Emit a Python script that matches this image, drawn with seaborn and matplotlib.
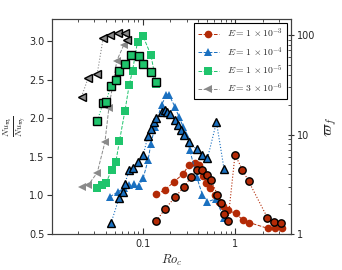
import matplotlib
matplotlib.use("Agg")
import matplotlib.pyplot as plt
import seaborn as sns
from matplotlib.ticker import FixedLocator, NullFormatter, LogLocator

# Nu ratio (left axis), filled markers, dashed
ro_nu_e3 = [0.1416, 0.174, 0.218, 0.274, 0.318, 0.367, 0.408, 0.451, 0.483, 0.533,
            0.604, 0.667, 0.736, 0.834, 1.02, 1.21, 1.42, 2.25, 2.72, 3.19]
nu_e3 = [1.016, 1.071, 1.175, 1.279, 1.396, 1.426, 1.396, 1.253, 1.158, 1.094,
         1.006, 0.916, 0.864, 0.805, 0.769, 0.682, 0.649, 0.574, 0.584, 0.584]

ro_nu_e4 = [0.0444, 0.0541, 0.0628, 0.0711, 0.0806, 0.0912, 0.1015, 0.1149, 0.1229, 0.1358,
            0.1604, 0.1816, 0.1937, 0.2233, 0.2485, 0.2742, 0.2938, 0.3243, 0.3855, 0.4446,
            0.5035, 0.619, 0.760]
nu_e4 = [0.984, 1.045, 1.097, 1.130, 1.143, 1.123, 1.223, 1.461, 1.665, 1.886,
         2.175, 2.305, 2.305, 2.153, 2.016, 1.894, 1.786, 1.591, 1.240, 1.006,
         0.919, 0.955, 0.704]

ro_nu_e5 = [0.0319, 0.0361, 0.0402, 0.0463, 0.0515, 0.0562, 0.0644, 0.0717, 0.0780,
            0.0883, 0.1015, 0.123, 0.1416]
nu_e5 = [1.094, 1.136, 1.158, 1.331, 1.439, 1.701, 2.091, 2.429, 2.621,
         2.997, 3.065, 2.825, 2.448]

ro_nu_e6 = [0.0219, 0.0259, 0.0324, 0.0392, 0.0433, 0.0528, 0.0628]
nu_e6 = [1.110, 1.136, 1.296, 1.691, 2.140, 2.751, 2.955]

# varpi_f (right axis), black-edged markers, dotted
ro_w_e3 = [0.1416, 0.174, 0.223, 0.279, 0.333, 0.385, 0.445, 0.494, 0.547, 0.646,
           0.702, 0.760, 0.839, 1.0, 1.20, 1.40, 2.24, 2.64, 3.12]
w_e3 = [1.36, 1.77, 2.33, 2.95, 3.72, 4.37, 4.37, 3.89, 3.52, 2.49,
        2.03, 1.58, 1.36, 6.27, 4.44, 3.40, 1.46, 1.31, 1.28]

ro_w_e4 = [0.0455, 0.0559, 0.0608, 0.0644, 0.0717, 0.078, 0.0897, 0.1015, 0.1149, 0.125,
           0.1334, 0.1416, 0.1604, 0.1742, 0.1845, 0.1972, 0.2233, 0.2423, 0.2636, 0.2812,
           0.3184, 0.3855, 0.4446, 0.5035, 0.630, 0.760]
w_e4 = [1.28, 2.31, 2.65, 3.21, 4.37, 4.60, 5.28, 6.17, 9.77, 11.4,
        13.3, 14.7, 16.7, 17.7, 16.7, 16.1, 14.0, 12.6, 11.1, 10.0,
        8.38, 7.08, 6.27, 5.75, 13.3, 4.54]

ro_w_e5 = [0.0324, 0.0376, 0.0402, 0.0455, 0.0511, 0.0555, 0.0644, 0.0748, 0.0919,
           0.1015, 0.122, 0.1416]
w_e5 = [13.8, 20.6, 21.2, 30.9, 35.5, 43.7, 50.9, 62.7, 61.7, 51.6, 42.7, 34.1]

ro_w_e6 = [0.0219, 0.0259, 0.0324, 0.0376, 0.0444, 0.0545, 0.0644, 0.0682]
w_e6 = [24.0, 37.4, 41.0, 94.0, 100.0, 104.0, 104.0, 88.5]

labels = [r'$E=1\,\times 10^{-3}$', r'$E=1\,\times 10^{-4}$',
          r'$E=1\,\times 10^{-5}$', r'$E=3\,\times 10^{-6}$']
colors = ['#b32a06', '#1a70c0', '#1fc46c', '#8a8a8a']
markers = ['o', '^', 's', '<']

sns.set_style("ticks")
plt.rcParams['font.family'] = ['DejaVu Sans']
plt.rcParams['mathtext.fontset'] = 'cm'

fig = plt.figure(figsize=(3.42, 2.70), dpi=100)
ax = fig.add_axes([52 / 342, 36 / 270, 238.7 / 342, 215 / 270])
ax2 = ax.twinx()

nu_x = [ro_nu_e3, ro_nu_e4, ro_nu_e5, ro_nu_e6]
nu_y = [nu_e3, nu_e4, nu_e5, nu_e6]
w_x = [ro_w_e3, ro_w_e4, ro_w_e5, ro_w_e6]
w_y = [w_e3, w_e4, w_e5, w_e6]

for i in range(4):
    sns.lineplot(x=nu_x[i], y=nu_y[i], ax=ax, color=colors[i], marker=markers[i],
                 markersize=5.5, markeredgewidth=0, linestyle='--', linewidth=0.7,
                 estimator=None, sort=False, label=labels[i])
    sns.lineplot(x=w_x[i], y=w_y[i], ax=ax2, color=colors[i], marker=markers[i],
                 markersize=5.3, markeredgecolor='black', markeredgewidth=1.0,
                 linestyle=':', linewidth=0.8, estimator=None, sort=False)

h, l = ax.get_legend_handles_labels()
ax.get_legend().remove()
leg = ax2.legend(h, l, loc='upper right', fontsize=7, frameon=True, fancybox=False,
                 framealpha=1, edgecolor='black', borderaxespad=0.4,
                 handlelength=2.2, labelspacing=0.5, borderpad=0.4)
leg.get_frame().set_linewidth(0.8)

ax.set_xscale('log')
ax.set_xlim(0.0105, 4.0)
ax.set_ylim(0.5, 3.29)
ax2.set_yscale('log')
ax2.set_ylim(1, 145)

ax.xaxis.set_major_locator(FixedLocator([0.1, 1]))
ax.set_xticklabels(['0.1', '1'])
ax.xaxis.set_minor_locator(LogLocator(base=10, subs=range(2, 10)))
ax.xaxis.set_minor_formatter(NullFormatter())
ax.set_yticks([0.5, 1.0, 1.5, 2.0, 2.5, 3.0])
ax.set_yticklabels(['0.5', '1.0', '1.5', '2.0', '2.5', '3.0'])
ax2.set_yticks([1, 10, 100])
ax2.set_yticklabels(['1', '10', '100'])

ax.tick_params(axis='x', which='both', direction='in', top=True, labelsize=7, color='0.2')
ax.tick_params(axis='x', which='major', length=4)
ax.tick_params(axis='x', which='minor', length=2.2)
ax.tick_params(axis='y', which='major', direction='out', length=3.5, labelsize=7, color='0.2', pad=2)
ax2.tick_params(axis='y', which='major', direction='inout', length=5, labelsize=7, color='0.2', pad=2)
ax2.tick_params(axis='y', which='minor', direction='in', length=2.2, color='0.2')

for a in (ax, ax2):
    for s in a.spines.values():
        s.set_color('0.25')
        s.set_linewidth(0.8)

ax.set_xlabel(r'$Ro_c$', fontsize=9, labelpad=3)
ax.set_ylabel(r'$\frac{Nu_{\varpi_o}}{Nu_{\varpi_f}}$', fontsize=9, va='center')
ax.yaxis.set_label_coords(-0.155, 0.5)
ax2.set_ylabel(r'$\varpi_f$', fontsize=11, labelpad=6)

fig.savefig('out.png', dpi=100)
